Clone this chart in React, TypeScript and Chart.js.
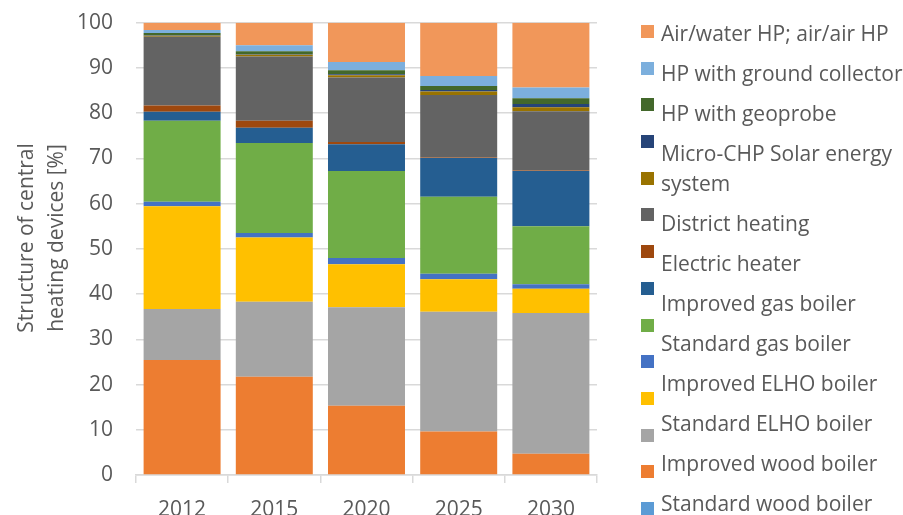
import React, { useEffect, useRef } from 'react';
import { Chart, registerables } from 'chart.js';

Chart.register(...registerables);

// Categories
const YEARS = ['2012', '2015', '2020', '2025', '2030'];

// Share of each heating device type [%], stacked bottom to top
const UNLABELLED = [0, 0, 0, 0, 0];
const STANDARD_WOOD_BOILER = [25.4, 21.7, 15.3, 9.6, 4.7];
const IMPROVED_WOOD_BOILER = [11.3, 16.6, 21.8, 26.5, 31.1];
const STANDARD_ELHO_BOILER = [22.7, 14.2, 9.5, 7.2, 5.4];
const IMPROVED_ELHO_BOILER = [1.0, 1.0, 1.4, 1.2, 1.0];
const STANDARD_GAS_BOILER = [17.9, 19.9, 19.2, 17.0, 12.8];
const IMPROVED_GAS_BOILER = [2.0, 3.4, 5.9, 8.6, 12.2];
const ELECTRIC_HEATER = [1.4, 1.5, 0.5, 0.1, 0.1];
const DISTRICT_HEATING = [15.2, 14.2, 14.3, 13.8, 13.1];
const SOLAR_ENERGY_SYSTEM = [0.2, 0.4, 0.5, 0.8, 0.9];
const MICRO_CHP = [0.1, 0.1, 0.2, 0.3, 0.7];
const HP_GEOPROBE = [0.5, 0.7, 0.9, 0.9, 1.3];
const HP_GROUND_COLLECTOR = [0.7, 1.3, 1.8, 2.2, 2.4];
const HP_AIR = [1.6, 5.0, 8.7, 11.8, 14.3];

const SERIES_NAMES = [
  '',
  'Standard wood boiler',
  'Improved wood boiler',
  'Standard ELHO boiler',
  'Improved ELHO boiler',
  'Standard gas boiler',
  'Improved gas boiler',
  'Electric heater',
  'District heating',
  'Solar energy system',
  'Micro-CHP',
  'HP with geoprobe',
  'HP with ground collector',
  'Air/water HP; air/air HP',
];

const SERIES_VALUES = [
  UNLABELLED,
  STANDARD_WOOD_BOILER,
  IMPROVED_WOOD_BOILER,
  STANDARD_ELHO_BOILER,
  IMPROVED_ELHO_BOILER,
  STANDARD_GAS_BOILER,
  IMPROVED_GAS_BOILER,
  ELECTRIC_HEATER,
  DISTRICT_HEATING,
  SOLAR_ENERGY_SYSTEM,
  MICRO_CHP,
  HP_GEOPROBE,
  HP_GROUND_COLLECTOR,
  HP_AIR,
];

const SERIES_COLORS = [
  '#5B9BD5',
  '#ED7D31',
  '#A5A5A5',
  '#FFC000',
  '#4472C4',
  '#70AD47',
  '#255E91',
  '#9E480E',
  '#636363',
  '#997300',
  '#264478',
  '#43682B',
  '#7CAFDD',
  '#F1975A',
];

// Legend text entries, top to bottom (one entry wraps onto two lines)
const LEGEND_TEXT = [
  'Air/water HP; air/air HP',
  'HP with ground collector',
  'HP with geoprobe',
  'Micro-CHP Solar energy\nsystem',
  'District heating',
  'Electric heater',
  'Improved gas boiler',
  'Standard gas boiler',
  'Improved ELHO boiler',
  'Standard ELHO boiler',
  'Improved wood boiler',
  'Standard wood boiler',
];

const Y_TITLE = ['Structure of central', 'heating devices [%]'];

const FONT = '"Open Sans", "DejaVu Sans", sans-serif';
const TEXT_COLOR = '#595959';
const GRID_COLOR = '#d9d9d9';
const FONT_SIZE = 21;

const yTitlePlugin = {
  id: 'yTitle',
  afterDraw(chart: any) {
    const ctx = chart.ctx;
    ctx.save();
    ctx.fillStyle = TEXT_COLOR;
    ctx.font = `${FONT_SIZE}px ${FONT}`;
    ctx.textAlign = 'center';
    ctx.textBaseline = 'alphabetic';
    const cy = 238;
    const baselines = [33, 63];
    Y_TITLE.forEach((line, i) => {
      ctx.save();
      ctx.translate(baselines[i], cy);
      ctx.rotate(-Math.PI / 2);
      ctx.fillText(line, 0, 0);
      ctx.restore();
    });
    ctx.restore();
  },
};

export default function App() {
  const canvasRef = useRef<HTMLCanvasElement | null>(null);

  useEffect(() => {
    let chart: Chart | null = null;
    let cancelled = false;
    const build = () => {
      if (cancelled || !canvasRef.current) return;
      chart = new Chart(canvasRef.current, {
        type: 'bar',
        data: {
          labels: YEARS,
          datasets: SERIES_VALUES.map((values, i) => ({
            label: SERIES_NAMES[i],
            data: values,
            backgroundColor: SERIES_COLORS[i],
            borderWidth: 0,
            categoryPercentage: 1,
            barPercentage: 0.835,
          })),
        },
        options: {
          responsive: false,
          maintainAspectRatio: false,
          devicePixelRatio: 1,
          animation: false,
          layout: { padding: { left: 0, right: 306, top: 22.7, bottom: 0 } },
          plugins: {
            legend: { display: false },
            tooltip: { enabled: false },
            title: { display: false },
          },
          scales: {
            x: {
              stacked: true,
              afterFit: (scale: any) => {
                scale.height = 40;
              },
              grid: {
                offset: true,
                drawOnChartArea: false,
                drawTicks: true,
                tickLength: 8,
                color: GRID_COLOR,
                lineWidth: 1.5,
              },
              border: { display: true, color: GRID_COLOR, width: 1.5 },
              ticks: {
                color: TEXT_COLOR,
                font: { family: FONT, size: FONT_SIZE },
                padding: 14,
                maxRotation: 0,
              },
            },
            y: {
              stacked: true,
              min: 0,
              max: 100,
              afterFit: (scale: any) => {
                scale.width = 136;
              },
              grid: {
                drawTicks: true,
                tickLength: 23,
                tickColor: 'rgba(0,0,0,0)',
                color: GRID_COLOR,
                lineWidth: 1.5,
              },
              border: { display: false },
              ticks: {
                stepSize: 10,
                color: TEXT_COLOR,
                font: { family: FONT, size: FONT_SIZE },
                padding: 0,
              },
            },
          },
        },
        plugins: [yTitlePlugin],
      });
    };
    const fonts: any = (document as any).fonts;
    if (fonts && fonts.load) {
      fonts.load(`${FONT_SIZE}px "Open Sans"`).then(build, build);
    } else {
      build();
    }
    return () => {
      cancelled = true;
      if (chart) chart.destroy();
    };
  }, []);

  const markerColors = SERIES_COLORS.slice().reverse();

  return (
    <div
      style={{
        position: 'fixed',
        left: 0,
        top: 0,
        width: 903,
        height: 515,
        background: '#ffffff',
        overflow: 'hidden',
      }}
    >
      <canvas ref={canvasRef} width={903} height={515} style={{ display: 'block' }} />
      <div style={{ position: 'absolute', left: 641, top: 25 }}>
        {markerColors.map((c, i) => (
          <div
            key={i}
            style={{
              width: 13,
              height: 13,
              background: c,
              marginBottom: 23.7,
            }}
          />
        ))}
      </div>
      <div
        style={{
          position: 'absolute',
          left: 661,
          top: 18,
          fontFamily: FONT,
          fontSize: FONT_SIZE,
          lineHeight: '30px',
          color: TEXT_COLOR,
          whiteSpace: 'pre',
        }}
      >
        {LEGEND_TEXT.map((t, i) => (
          <div key={i} style={{ marginBottom: 10 }}>
            {t}
          </div>
        ))}
      </div>
    </div>
  );
}
